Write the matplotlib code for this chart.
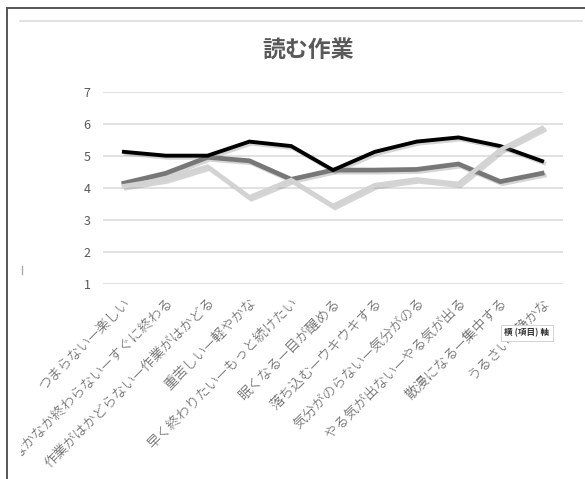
import matplotlib
matplotlib.use('Agg')
import matplotlib.pyplot as plt
import matplotlib.patheffects as pe
from matplotlib.lines import Line2D
from matplotlib.transforms import Bbox, TransformedBbox

plt.rcParams['font.family'] = ['Noto Sans CJK JP', 'DejaVu Sans']

categories = ['つまらない—楽しい', 'なかなか終わらない—すぐに終わる',
              '作業がはかどらない—作業がはかどる', '重苦しい—軽やかな',
              '早く終わりたい—もっと続けたい', '眠くなる—目が醒める',
              '落ち込む—ウキウキする', '気分がのらない—気分がのる',
              'やる気が出ない—やる気が出る', '散漫になる—集中する',
              'うるさい—静かな']
black_vals = [5.13, 5.01, 5.01, 5.45, 5.31, 4.56, 5.13, 5.45, 5.58, 5.31, 4.84]
dark_vals = [4.15, 4.46, 4.96, 4.85, 4.27, 4.56, 4.56, 4.58, 4.75, 4.20, 4.46]
light_vals = [4.06, 4.27, 4.67, 3.71, 4.25, 3.44, 4.09, 4.27, 4.13, 5.19, 5.87]
yticks = [1, 2, 3, 4, 5, 6, 7]

W, H = 585, 479
fig = plt.figure(figsize=(W / 100, H / 100), dpi=100)
fig.patch.set_facecolor('white')

# axes placed in pixel terms
left, right, top, bottom = 103, 563, 92, 284
ax = fig.add_axes([left / W, 1 - bottom / H, (right - left) / W, (bottom - top) / H])

x = list(range(len(categories)))
shadow = [pe.SimpleLineShadow(offset=(1.5, -1.5), shadow_color='#888888', alpha=0.35),
          pe.Normal()]
ax.plot(x, dark_vals, color='#777777', lw=3.4, solid_joinstyle='miter', path_effects=shadow, zorder=3)
ax.plot(x, black_vals, color='#000000', lw=2.8, solid_joinstyle='miter', path_effects=shadow, zorder=4)
ax.plot(x, light_vals, color='#d3d3d3', lw=3.2, solid_joinstyle='miter', path_effects=shadow, zorder=5)

ax.set_xlim(-0.5, len(categories) - 0.5)
ax.set_ylim(1, 7)
ax.set_yticks(yticks)
ax.grid(axis='y', color='#d9d9d9', lw=1.1)
ax.set_axisbelow(True)
for s in ax.spines.values():
    s.set_visible(False)
ax.tick_params(axis='both', length=0, colors='#595959', labelsize=9)
ax.tick_params(axis='y', pad=9)
ax.set_xticks(x)
ax.set_xticklabels(categories, rotation=45, ha='right', va='top',
                   rotation_mode='anchor', fontsize=10, color='#595959',
                   fontweight='light')
ax.tick_params(axis='x', pad=8)

clip = TransformedBbox(Bbox([[21 / W, 0], [1, 1]]), fig.transFigure)
for lab in ax.get_xticklabels():
    lab.set_clip_on(True)
    lab.set_clip_box(clip)

fig.text(308 / W, 1 - 51 / H, '読む作業', ha='center', va='center',
         fontsize=16.5, fontweight='bold', color='#595959')

# screenshot frame and chart area edge
fig.add_artist(Line2D([7 / W, 7 / W], [0, 1 - 8 / H], color='#555555', lw=1.4))
fig.add_artist(Line2D([7 / W, 1], [1 - 8 / H, 1 - 8 / H], color='#555555', lw=1.4))
fig.add_artist(Line2D([20 / W, 582 / W], [1 - 21 / H, 1 - 21 / H], color='#dddddd', lw=1.2))
fig.add_artist(Line2D([22 / W, 22 / W], [1 - 266 / H, 1 - 274 / H], color='#aaaaaa', lw=1.0))

# tooltip
fig.text(527 / W, 1 - 333 / H, '横 (項目) 軸', ha='center', va='center',
         fontsize=6.2, fontweight='bold', color='#333333',
         bbox=dict(boxstyle='square,pad=0.45', fc='white', ec='#cccccc', lw=0.6))

fig.savefig('out.png', dpi=100)
